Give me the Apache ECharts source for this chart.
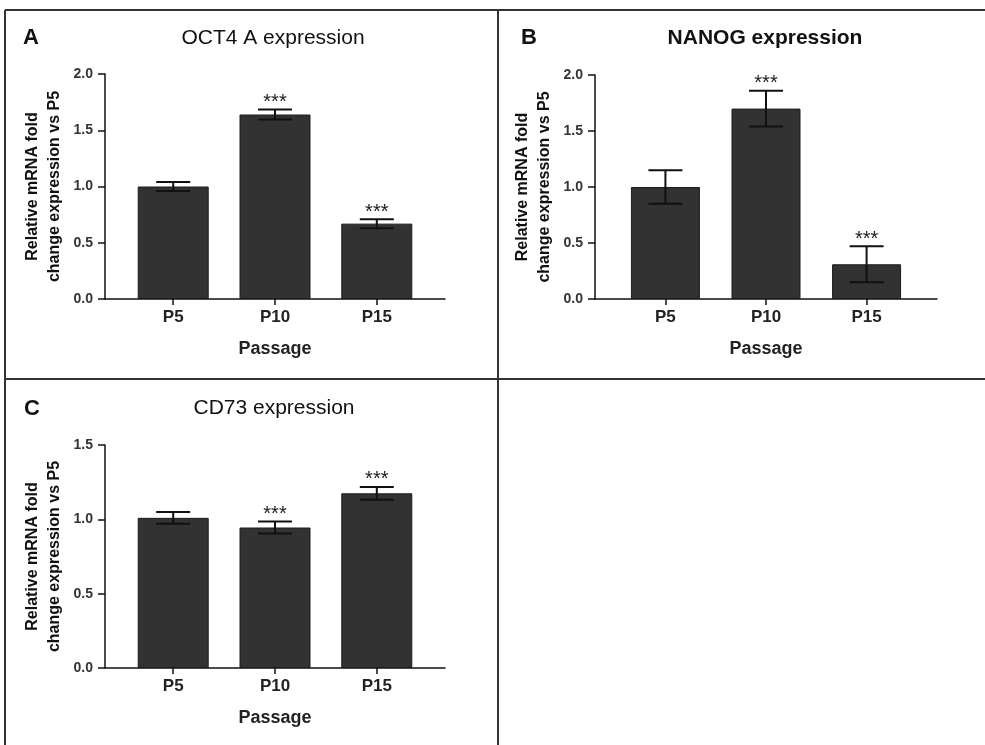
<!DOCTYPE html>
<html>
<head>
    <meta charset="utf-8">
    <title>Relative mRNA expression by passage</title>
    <style>
        html, body { margin: 0; padding: 0; background: #fff; }
        #main { width: 985px; height: 745px; }
    </style>
</head>
<body>
<div id="main"></div>
<script src="https://cdn.jsdelivr.net/npm/echarts@6/dist/echarts.min.js"></script>
<script>
    // data
    var categories = ['P5', 'P10', 'P15'];
    var catPos = [1, 2, 3];

    var octMean = [1.00, 1.64, 0.67];
    var octErr = [0.04, 0.045, 0.04];
    var octSig = ['', '***', '***'];

    var nanogMean = [1.00, 1.70, 0.31];
    var nanogErr = [0.15, 0.16, 0.16];
    var nanogSig = ['', '***', '***'];

    var cd73Mean = [1.01, 0.945, 1.175];
    var cd73Err = [0.04, 0.04, 0.043];
    var cd73Sig = ['', '***', '***'];

    var yTicksAB = ['0.0', '0.5', '1.0', '1.5', '2.0'];
    var yTicksC = ['0.0', '0.5', '1.0', '1.5'];

    var FONT = '"Liberation Sans", Arial, sans-serif';
    var INK = '#111';
    var BAR = '#323232';

    function xAxisFor(gi, min, max) {
        return {
            type: 'value',
            gridIndex: gi,
            min: min,
            max: max,
            name: 'Passage',
            nameLocation: 'middle',
            nameGap: 41,
            nameTextStyle: { fontFamily: FONT, fontSize: 18, fontWeight: 'bold', color: '#222' },
            axisLine: { lineStyle: { color: INK, width: 1.5 } },
            axisTick: { show: true, length: 6, customValues: catPos, lineStyle: { color: INK, width: 1.5 } },
            axisLabel: {
                customValues: catPos,
                margin: 10,
                fontFamily: FONT, fontSize: 17, fontWeight: 'bold', color: '#222',
                formatter: function (v) { return categories[Math.round(v) - 1] || ''; }
            },
            splitLine: { show: false }
        };
    }

    function yAxisFor(gi, max, ticks) {
        return {
            type: 'value',
            gridIndex: gi,
            min: 0,
            max: max,
            interval: 0.5,
            name: 'Relative mRNA fold\nchange expression vs P5',
            nameLocation: 'middle',
            nameRotate: 90,
            nameGap: 39,
            nameTextStyle: { fontFamily: FONT, fontSize: 16, fontWeight: 'bold', color: '#111', lineHeight: 22, align: 'center' },
            axisLine: { show: true, lineStyle: { color: INK, width: 1.5 } },
            axisTick: { show: true, length: 7, lineStyle: { color: INK, width: 1.5 } },
            axisLabel: {
                margin: 12,
                fontFamily: FONT, fontSize: 14, fontWeight: 'bold', color: '#333',
                formatter: function (v) { return ticks[Math.round(v * 2)]; }
            },
            splitLine: { show: false }
        };
    }

    function barSeries(gi, mean, width) {
        return {
            type: 'bar',
            xAxisIndex: gi,
            yAxisIndex: gi,
            barWidth: width,
            itemStyle: { color: BAR, borderColor: '#1c1c1c', borderWidth: 1 },
            data: catPos.map(function (p, i) { return [p, mean[i]]; })
        };
    }

    function errSeries(gi, mean, err, sig) {
        return {
            type: 'custom',
            xAxisIndex: gi,
            yAxisIndex: gi,
            z: 5,
            data: catPos.map(function (p, i) { return [p, mean[i], err[i]]; }),
            renderItem: function (params, api) {
                var x = api.value(0), m = api.value(1), e = api.value(2);
                var top = api.coord([x, m + e]);
                var bot = api.coord([x, m - e]);
                var hw = 17;
                var st = { stroke: INK, lineWidth: 2 };
                return {
                    type: 'group',
                    children: [
                        { type: 'line', shape: { x1: top[0], y1: top[1], x2: bot[0], y2: bot[1] }, style: st },
                        { type: 'line', shape: { x1: top[0] - hw, y1: top[1], x2: top[0] + hw, y2: top[1] }, style: st },
                        { type: 'line', shape: { x1: bot[0] - hw, y1: bot[1], x2: bot[0] + hw, y2: bot[1] }, style: st },
                        {
                            type: 'text',
                            x: top[0], y: top[1] + 3,
                            style: {
                                text: sig[params.dataIndex],
                                fontFamily: FONT, fontSize: 20, fill: '#222',
                                align: 'center', verticalAlign: 'bottom'
                            }
                        }
                    ]
                };
            }
        };
    }

    function label(x, y, txt, size, weight, align) {
        return {
            type: 'text', x: x, y: y,
            style: {
                text: txt, fontFamily: FONT, fontSize: size, fontWeight: weight,
                fill: '#111', align: align, verticalAlign: 'middle'
            }
        };
    }

    function rule(x1, y1, x2, y2) {
        return { type: 'line', shape: { x1: x1, y1: y1, x2: x2, y2: y2 }, style: { stroke: '#333', lineWidth: 2 } };
    }

    var chart = echarts.init(document.getElementById('main'));
    var option = {
        backgroundColor: '#fff',
        animation: false,
        grid: [
            { left: 105, top: 74, width: 340, height: 225 },
            { left: 595, top: 75, width: 342, height: 224 },
            { left: 105, top: 445, width: 340, height: 223 }
        ],
        xAxis: [
            xAxisFor(0, 0.33, 3.67),
            xAxisFor(1, 0.30, 3.70),
            xAxisFor(2, 0.33, 3.67)
        ],
        yAxis: [
            yAxisFor(0, 2, yTicksAB),
            yAxisFor(1, 2, yTicksAB),
            yAxisFor(2, 1.5, yTicksC)
        ],
        series: [
            barSeries(0, octMean, 71),
            errSeries(0, octMean, octErr, octSig),
            barSeries(1, nanogMean, 69),
            errSeries(1, nanogMean, nanogErr, nanogSig),
            barSeries(2, cd73Mean, 71),
            errSeries(2, cd73Mean, cd73Err, cd73Sig)
        ],
        graphic: [
            // panel frame
            rule(5, 10, 985, 10),
            rule(5, 10, 5, 745),
            rule(498, 10, 498, 745),
            rule(5, 379, 985, 379),
            // panel letters and titles
            label(23, 38, 'A', 22, 'bold', 'left'),
            label(273, 38, 'OCT4 A expression', 21, 'normal', 'center'),
            label(521, 38, 'B', 22, 'bold', 'left'),
            label(765, 38, 'NANOG expression', 21, 'bold', 'center'),
            label(24, 409, 'C', 22, 'bold', 'left'),
            label(274, 408, 'CD73 expression', 21, 'normal', 'center')
        ]
    };
    chart.setOption(option);
</script>
</body>
</html>
